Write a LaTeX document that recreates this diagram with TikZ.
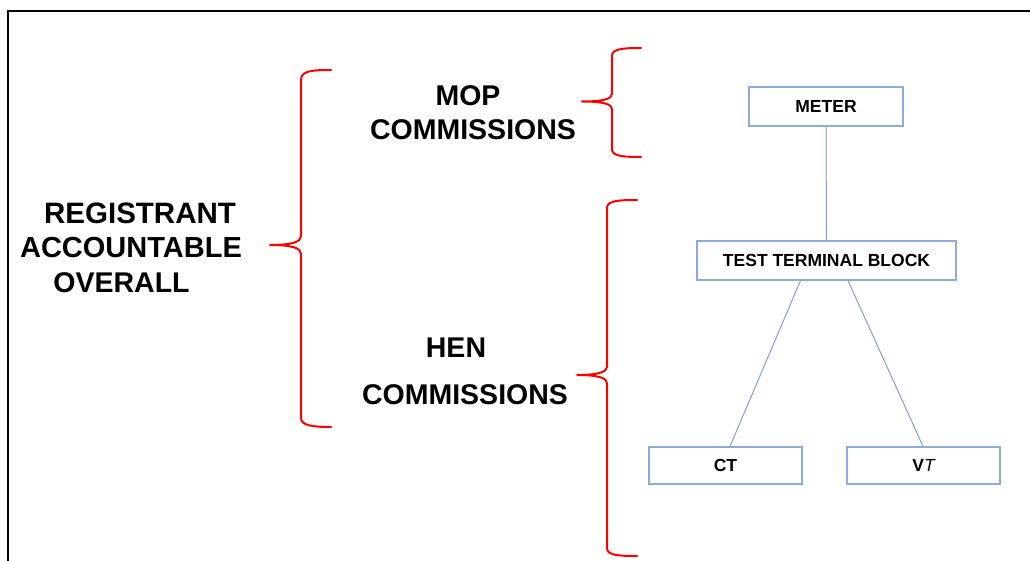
\documentclass[tikz,border=0pt]{standalone}
\usepackage{fontspec}
\setmainfont{Liberation Sans}
\usetikzlibrary{calc}
\definecolor{boxblue}{RGB}{143,170,220}
\definecolor{lineblue}{RGB}{130,160,210}
\begin{document}
\begin{tikzpicture}[x=1pt,y=-1pt,
  brace/.style={draw=red, line width=2pt, line cap=round, line join=round},
  box/.style={draw=boxblue, line width=1.3pt, inner sep=0pt, font=\fontsize{17.5}{20}\selectfont\bfseries},
  link/.style={draw=lineblue, line width=1pt},
  big/.style={font=\fontsize{28.5}{34}\selectfont\bfseries, anchor=base, inner sep=0pt}]
\useasboundingbox (0,0) rectangle (1030,561);
\draw[line width=2.6pt] (8,561) -- (8,11) -- (1030,11);

% left text
\node[big, font=\fontsize{29.5}{34}\selectfont\bfseries] (reg1) at (140,224) {REGISTRANT};
\node[big, font=\fontsize{29}{34}\selectfont\bfseries] (reg2) at (131,258) {ACCOUNTABLE};
\node[big] (reg3) at (121.5,292) {OVERALL};

\node[big] (mop1) at (468,106) {MOP};
\node[big] (mop2) at (473,140) {COMMISSIONS};

\node[big] (hen1) at (456,357) {HEN};
\node[big] (hen2) at (465,404) {COMMISSIONS};

% braces
\draw[brace] (331,70) .. controls (311,70) and (301,71) .. (301,80) -- (301,236)
  .. controls (301,242) and (292,245) .. (270,245)
  .. controls (292,245) and (301,248) .. (301,254) -- (301,418)
  .. controls (301,425) and (311,427) .. (331,427);
\draw[brace] (641,48) .. controls (622,48) and (612,49) .. (612,56) -- (612,94)
  .. controls (612,99) and (603,101.5) .. (582,101.5)
  .. controls (603,101.5) and (612,104) .. (612,109) -- (612,149)
  .. controls (612,156) and (622,157) .. (641,157);
\draw[brace] (637,200) .. controls (617,200) and (607,201) .. (607,208) -- (607,367)
  .. controls (607,372) and (598,375) .. (577,375)
  .. controls (598,375) and (607,378) .. (607,383) -- (607,548)
  .. controls (607,555) and (617,556) .. (637,556);

% boxes
\node[box, minimum width=154pt, minimum height=39pt] (meter) at (826,106.5) {METER};
\node[box, minimum width=259pt, minimum height=39pt] (ttb) at (826.5,260.5) {TEST TERMINAL BLOCK};
\node[box, minimum width=153pt, minimum height=37pt] (ct) at (725.5,465.5) {CT};
\node[box, minimum width=153pt, minimum height=37pt] (vt) at (923.5,465.5) {V{\itshape\mdseries T}};

% connectors
\draw[link] (meter.south) -- (ttb.north);
\draw[link] ($(ttb.south)+(-26,0)$) -- ($(ct.north)+(4.5,0)$);
\draw[link] ($(ttb.south)+(21.5,0)$) -- ($(vt.north)+(-0.5,0)$);
\end{tikzpicture}
\end{document}
